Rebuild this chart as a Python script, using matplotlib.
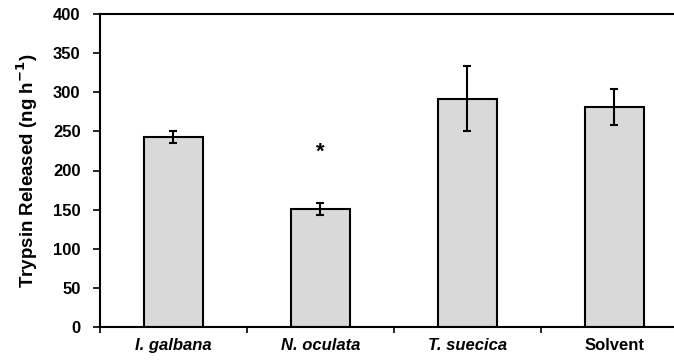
import numpy as np
import matplotlib
matplotlib.use("Agg")
import matplotlib.pyplot as plt

# data
categories = ["I. galbana", "N. oculata", "T. suecica", "Solvent"]
label_styles = ["italic", "italic", "italic", "normal"]
trypsin = [243, 151, 292, 281]
errors = [8, 8, 41, 23]
star_index = 1
star_value = 224

plt.rcParams["font.family"] = ["Liberation Sans", "DejaVu Sans"]

fig = plt.figure(figsize=(6.74, 3.63), dpi=100)
ax = fig.add_axes([100 / 674, 36 / 363, 1 - 100 / 674, 313 / 363])

x = np.arange(len(categories))
ax.bar(x, trypsin, width=0.4, color="#d9d9d9", edgecolor="black", linewidth=1.5, zorder=2)
ax.errorbar(x, trypsin, yerr=errors, fmt="none", ecolor="black", elinewidth=1.5,
            capsize=3, capthick=1.5, zorder=3)
ax.text(x[star_index], star_value, "*", ha="center", va="center",
        fontsize=16, fontweight="bold")

ax.set_ylim(0, 400)
ax.set_yticks(range(0, 401, 50))
ax.set_xlim(-0.5, 3.405)

# ticks at category boundaries, labels at centres
ax.set_xticks(np.arange(-0.5, 3.5, 1.0))
ax.set_xticklabels([])
ax.set_xticks(x, minor=True)
ax.set_xticklabels(categories, minor=True)
for lab, st in zip(ax.get_xticklabels(minor=True), label_styles):
    lab.set_fontstyle(st)
    lab.set_fontweight("bold")
    lab.set_fontsize(12)
ax.tick_params(axis="x", which="minor", length=0, pad=8)
ax.tick_params(axis="x", which="major", length=4, width=1.2, direction="out")
ax.tick_params(axis="y", length=5, width=1.2, direction="out", labelsize=12, pad=9)
for lab in ax.get_yticklabels():
    lab.set_fontweight("bold")

ax.set_ylabel("Trypsin Released (ng h$^{\\mathbf{-1}}$)", fontsize=13.5, fontweight="bold")
ax.yaxis.set_label_coords(-0.105, 0.5)

for side in ["left", "bottom", "top"]:
    ax.spines[side].set_linewidth(1.5)
ax.spines["right"].set_visible(False)

fig.savefig("out.png", dpi=100)
plt.close(fig)
